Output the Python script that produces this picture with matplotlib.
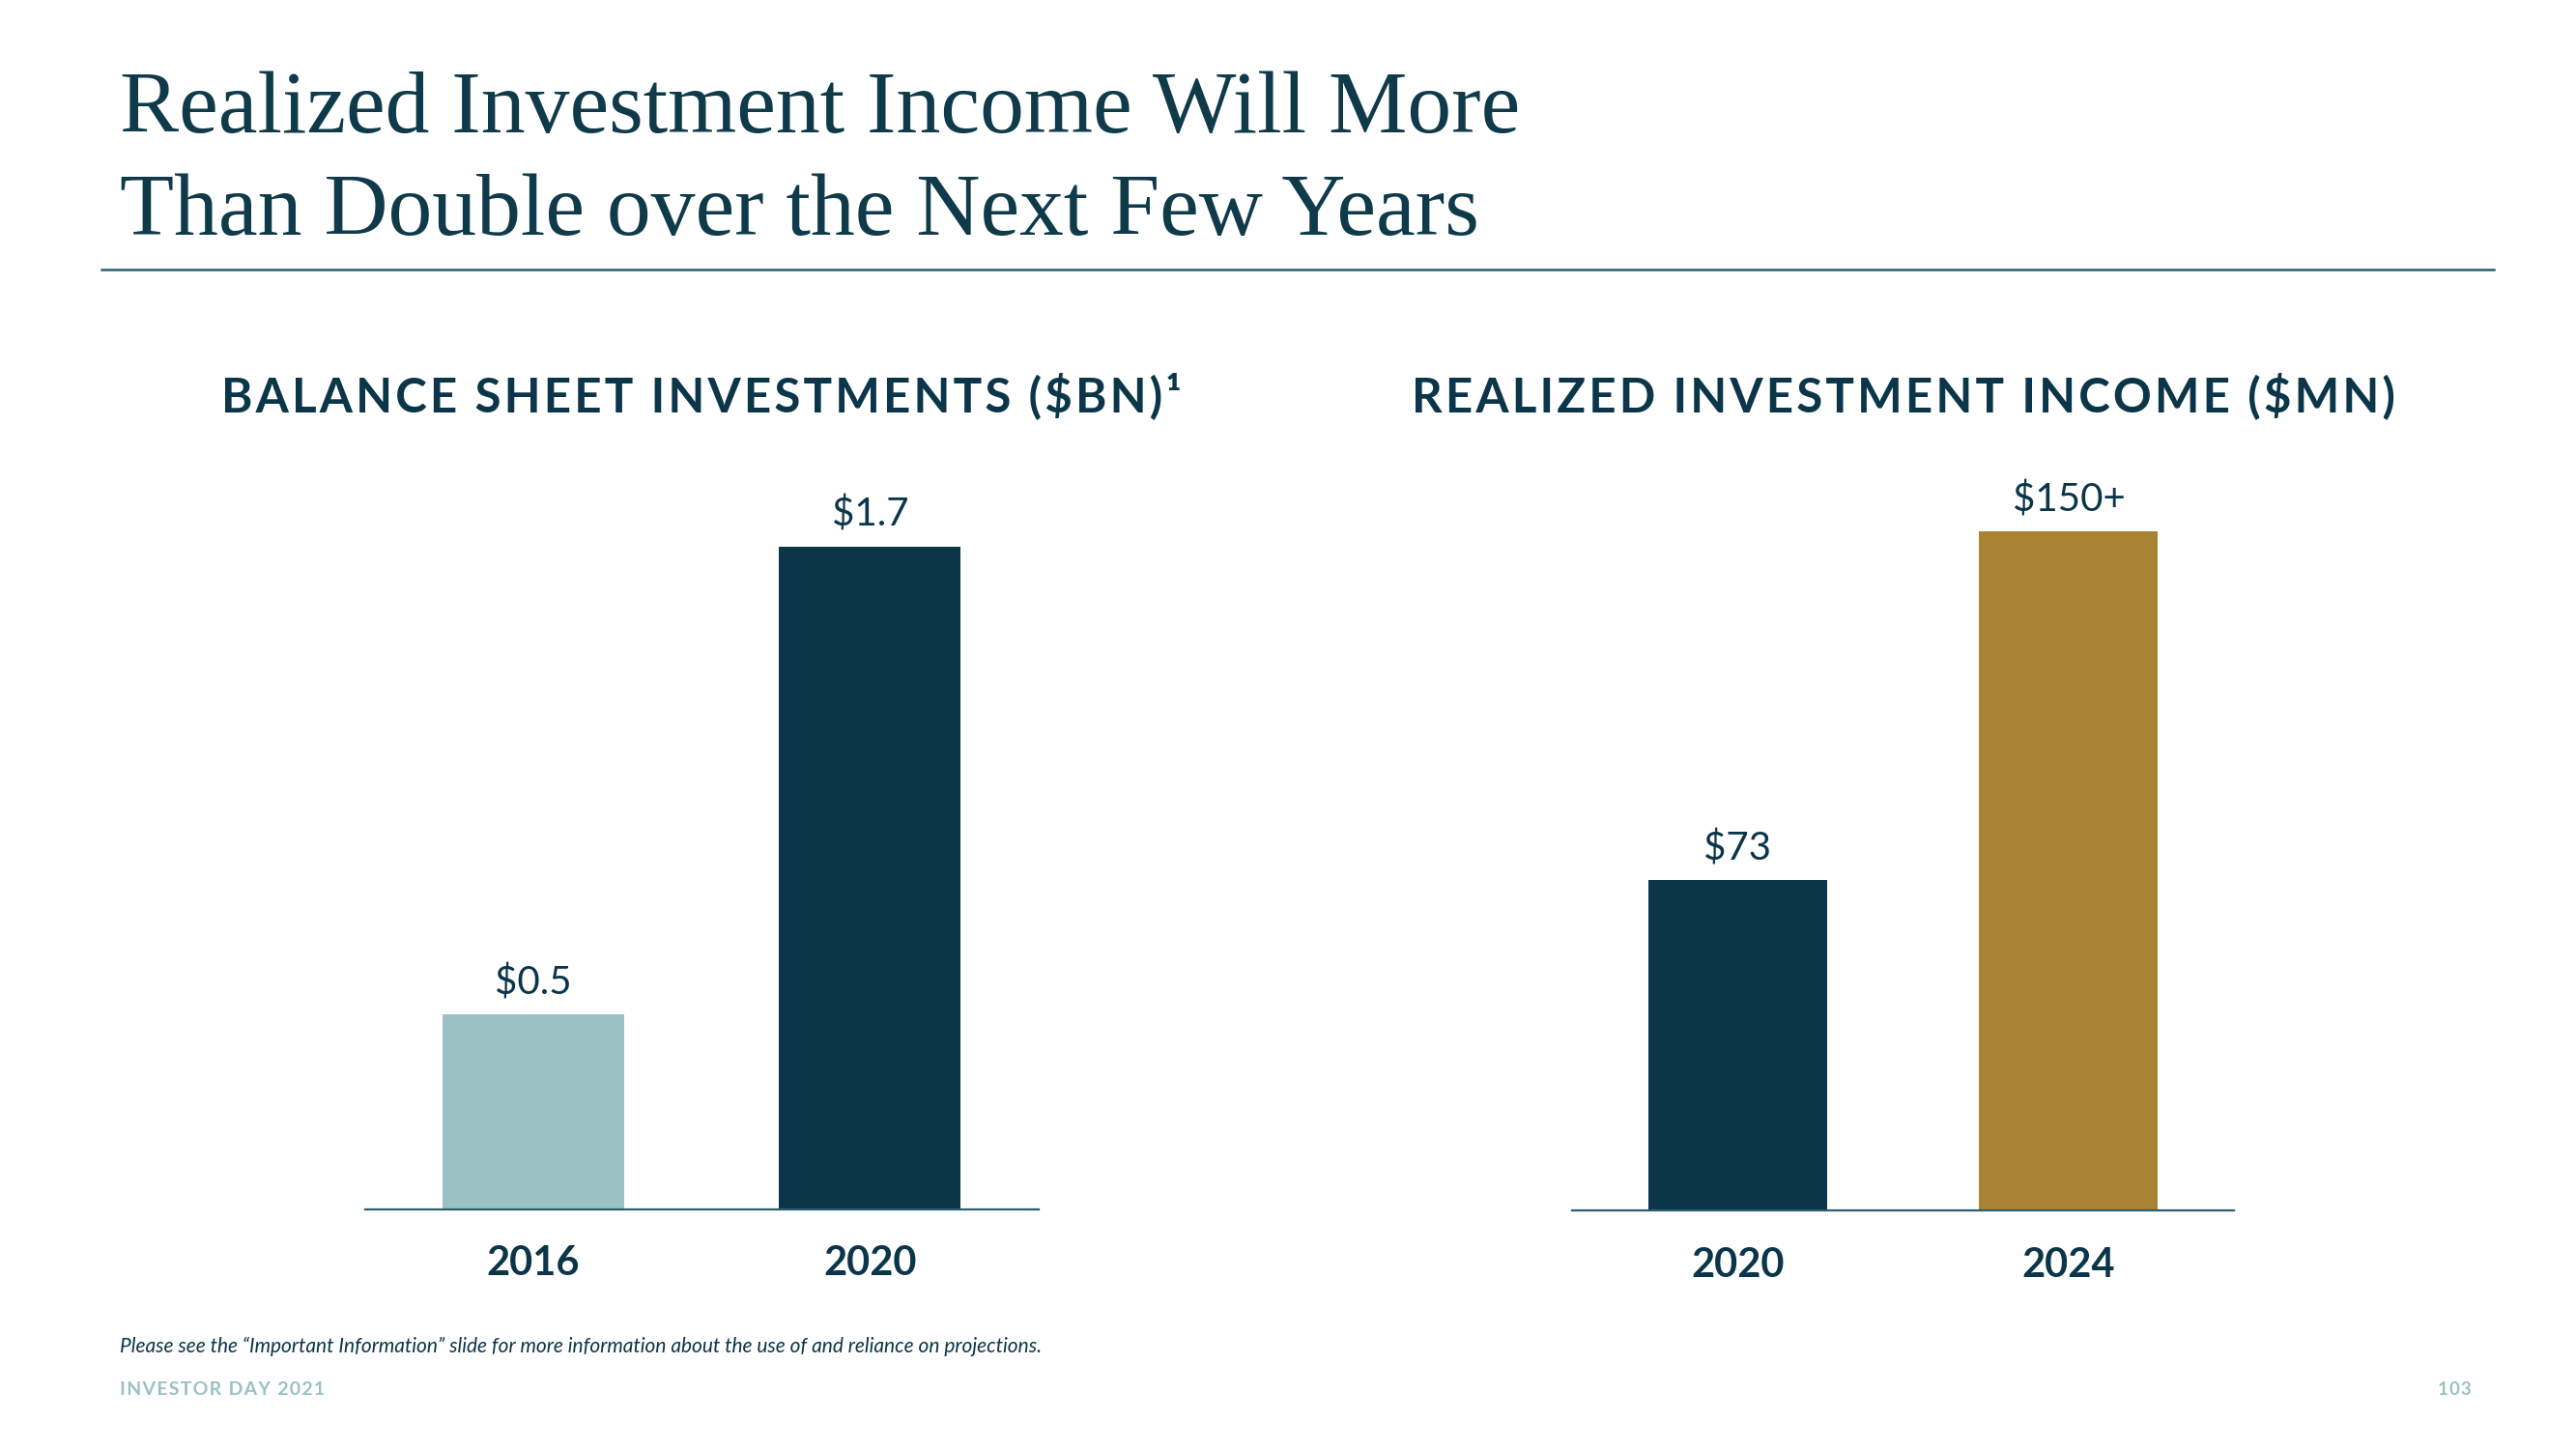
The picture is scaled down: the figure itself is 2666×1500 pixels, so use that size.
import matplotlib.pyplot as plt

# data
bs_years = ["2016", "2020"]
bs_values = [0.5, 1.7]
bs_labels = ["$0.5", "$1.7"]

inc_years = ["2020", "2024"]
inc_values = [73, 150]
inc_labels = ["$73", "$150+"]

NAVY = "#0B3549"
TEAL_LIGHT = "#9BC1C2"
GOLD = "#A88334"
TITLE = "#0F3A4A"
RULE = "#2C5F6E"

plt.rcParams["font.family"] = ["Lato", "DejaVu Sans"]


def spaced(s):
    # slide headings use wide tracking; fake it with hair spaces
    return "\u200a".join(s)


fig = plt.figure(figsize=(26.66, 15), dpi=100)

fig.text(0.0465, 0.909, "Realized Investment Income Will More", fontsize=66,
         family="Liberation Serif", color=TITLE, va="baseline")
fig.text(0.0465, 0.838, "Than Double over the Next Few Years", fontsize=66,
         family="Liberation Serif", color=TITLE, va="baseline")
fig.add_artist(plt.Line2D([0.0395, 0.968], [0.814, 0.814], color=RULE, lw=1.8))


def bar_panel(rect, years, values, labels, colors, ymax, title):
    ax = fig.add_axes(rect)
    ax.bar(range(len(values)), values, width=0.54, color=colors)
    for i, (v, lab) in enumerate(zip(values, labels)):
        ax.annotate(lab, (i, v), xytext=(0, 10), textcoords="offset points",
                    ha="center", va="bottom", fontsize=29, color=NAVY)
    ax.set_xlim(-0.5, 1.5)
    ax.set_ylim(0, ymax)
    ax.set_xticks(range(len(years)), years)
    ax.tick_params(axis="x", length=0, pad=27, labelsize=30, labelcolor=NAVY)
    for lab in ax.get_xticklabels():
        lab.set_fontweight("bold")
    ax.set_yticks([])
    for s in ["top", "right", "left"]:
        ax.spines[s].set_visible(False)
    ax.spines["bottom"].set_color(RULE)
    ax.spines["bottom"].set_linewidth(1.6)
    cx = rect[0] + rect[2] / 2
    fig.text(cx, 0.7268, spaced(title), ha="center", va="center", fontsize=35.5,
             fontweight="bold", color=NAVY)
    return ax


bar_panel([0.1416, 0.1655, 0.2615, 0.495], bs_years, bs_values, bs_labels,
          [TEAL_LIGHT, NAVY], 1.84, "BALANCE SHEET INVESTMENTS ($BN)¹")
bar_panel([0.6103, 0.1644, 0.257, 0.496], inc_years, inc_values, inc_labels,
          [NAVY, GOLD], 158.7, "REALIZED INVESTMENT INCOME ($MN)")

fig.text(0.0465, 0.0707, "Please see the \u201cImportant Information\u201d slide for more "
         "information about the use of and reliance on projections.",
         fontsize=15, style="italic", color=NAVY, va="center")
fig.text(0.0465, 0.0413, spaced("INVESTOR DAY 2021"), fontsize=14,
         color=TEAL_LIGHT, va="center", fontweight="bold")
fig.text(0.9595, 0.0413, spaced("103"), fontsize=13.5, color=TEAL_LIGHT,
         va="center", ha="right", fontweight="bold")

fig.savefig("out.png", dpi=100, facecolor="white")
